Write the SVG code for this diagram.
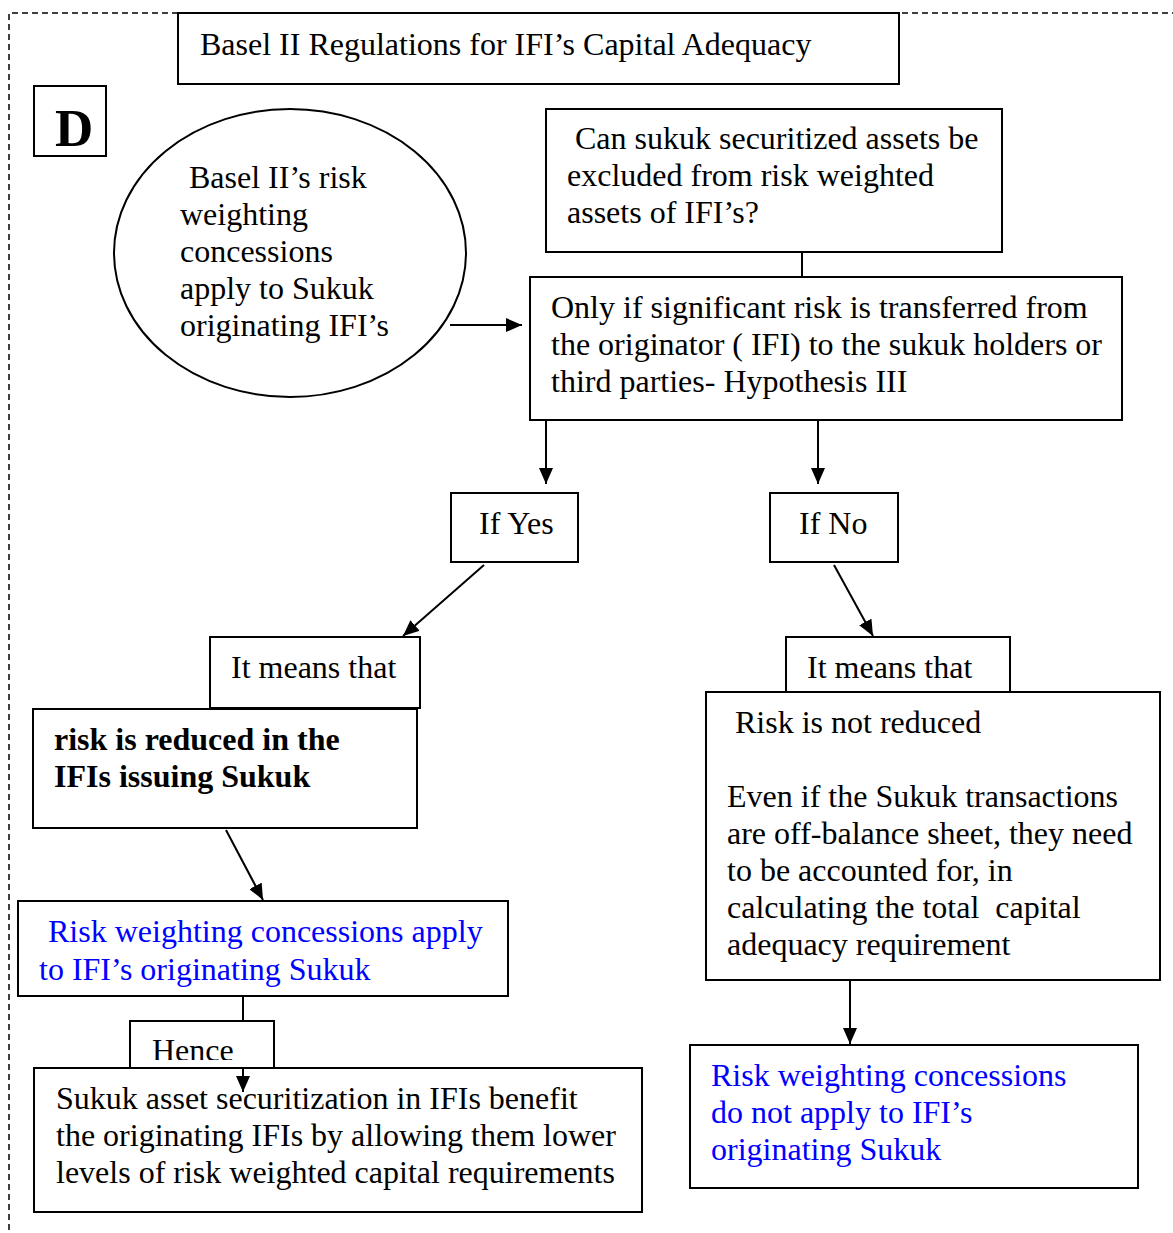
<svg xmlns="http://www.w3.org/2000/svg" width="1173" height="1233" viewBox="0 0 1173 1233">
<defs>
<marker id="ah" markerWidth="16" markerHeight="14" refX="16" refY="7" orient="auto" markerUnits="userSpaceOnUse">
<path d="M0,0 L16,7 L0,14 Z" fill="#000"/>
</marker>
<clipPath id="hc"><rect x="130" y="1021" width="145" height="39"/></clipPath>
</defs>
<style>
.b{fill:#fff;stroke:#000;stroke-width:2}
.t{font-family:"Liberation Serif","Times New Roman",serif;font-size:32px;fill:#000}
.bl{fill:#0000ff}
.bd{font-weight:bold}
.c{fill:none;stroke:#000;stroke-width:2}
</style>
<rect width="1173" height="1233" fill="#fff"/>
<path d="M9,1230 V13 H1173" fill="none" stroke="#000" stroke-width="1.5" stroke-dasharray="6,4"/>
<g id="title"><rect class="b" x="178" y="13" width="721" height="71"/><text class="t" x="200" y="55">Basel II Regulations for IFI’s Capital Adequacy</text></g>
<g id="D"><rect class="b" x="34" y="86" width="72" height="70"/><text class="t bd" x="55" y="146" style="font-size:53px">D</text></g>
<g id="ellipse"><ellipse class="b" cx="290" cy="253" rx="176" ry="144"/>
<text class="t"><tspan x="189" y="188">Basel II’s risk</tspan><tspan x="180" y="225">weighting</tspan><tspan x="180" y="262">concessions</tspan><tspan x="180" y="299">apply to Sukuk</tspan><tspan x="180" y="336">originating IFI’s</tspan></text></g>
<g id="question"><rect class="b" x="546" y="109" width="456" height="143"/>
<text class="t"><tspan x="575" y="149">Can sukuk securitized assets be</tspan><tspan x="567" y="186">excluded from risk weighted</tspan><tspan x="567" y="223">assets of IFI’s?</tspan></text></g>
<g id="connectors">
<path class="c" d="M450,325 H522" marker-end="url(#ah)"/>
<path class="c" d="M802,252 V277"/>
<path class="c" d="M546,420 V484" marker-end="url(#ah)"/>
<path class="c" d="M818,420 V484" marker-end="url(#ah)"/>
<path class="c" d="M484,565 L403,636" marker-end="url(#ah)"/>
<path class="c" d="M834,565 L873,636" marker-end="url(#ah)"/>
<path class="c" d="M226,830 L263,900" marker-end="url(#ah)"/>
<path class="c" d="M850,980 V1044" marker-end="url(#ah)"/>
<path class="c" d="M243,996 V1021"/>
</g>
<g id="onlyif"><rect class="b" x="530" y="277" width="592" height="143"/>
<text class="t"><tspan x="551" y="318">Only if significant risk is transferred from</tspan><tspan x="551" y="355">the originator ( IFI) to the sukuk holders or</tspan><tspan x="551" y="392">third parties- Hypothesis III</tspan></text></g>
<g id="ifyes"><rect class="b" x="451" y="493" width="127" height="69"/><text class="t" x="479" y="534">If Yes</text></g>
<g id="ifno"><rect class="b" x="770" y="493" width="128" height="69"/><text class="t" x="799" y="534">If No</text></g>
<g id="means-left"><rect class="b" x="210" y="637" width="210" height="71"/><text class="t" x="231" y="678">It means that</text></g>
<g id="reduced"><rect class="b" x="33" y="709" width="384" height="119"/>
<text class="t bd"><tspan x="54" y="750">risk is reduced in the</tspan><tspan x="54" y="787">IFIs issuing Sukuk</tspan></text></g>
<g id="means-right"><rect class="b" x="786" y="637" width="224" height="55"/><text class="t" x="807" y="678">It means that</text></g>
<g id="notreduced"><rect class="b" x="706" y="692" width="454" height="288"/>
<text class="t"><tspan x="735" y="733">Risk is not reduced</tspan><tspan x="727" y="807">Even if the Sukuk transactions</tspan><tspan x="727" y="844">are off-balance sheet, they need</tspan><tspan x="727" y="881">to be accounted for, in</tspan><tspan x="727" y="918" xml:space="preserve">calculating the total  capital</tspan><tspan x="727" y="955">adequacy requirement</tspan></text></g>
<g id="apply"><rect class="b" x="18" y="901" width="490" height="95"/>
<text class="t bl"><tspan x="48" y="942">Risk weighting concessions apply</tspan><tspan x="39" y="980">to IFI’s originating Sukuk</tspan></text></g>
<g id="hence"><rect class="b" x="130" y="1021" width="144" height="47"/><text class="t" x="152" y="1061" clip-path="url(#hc)">Hence</text></g>
<g id="benefit"><rect class="b" x="34" y="1068" width="608" height="144"/>
<text class="t"><tspan x="56" y="1109">Sukuk asset securitization in IFIs benefit</tspan><tspan x="56" y="1146">the originating IFIs by allowing them lower</tspan><tspan x="56" y="1183">levels of risk weighted capital requirements</tspan></text></g>
<g id="notapply"><rect class="b" x="690" y="1045" width="448" height="143"/>
<text class="t bl"><tspan x="711" y="1086">Risk weighting concessions</tspan><tspan x="711" y="1123">do not apply to IFI’s</tspan><tspan x="711" y="1160">originating Sukuk</tspan></text></g>
<g id="connectors2"><path class="c" d="M243,1068 V1092" marker-end="url(#ah)"/></g>
</svg>
